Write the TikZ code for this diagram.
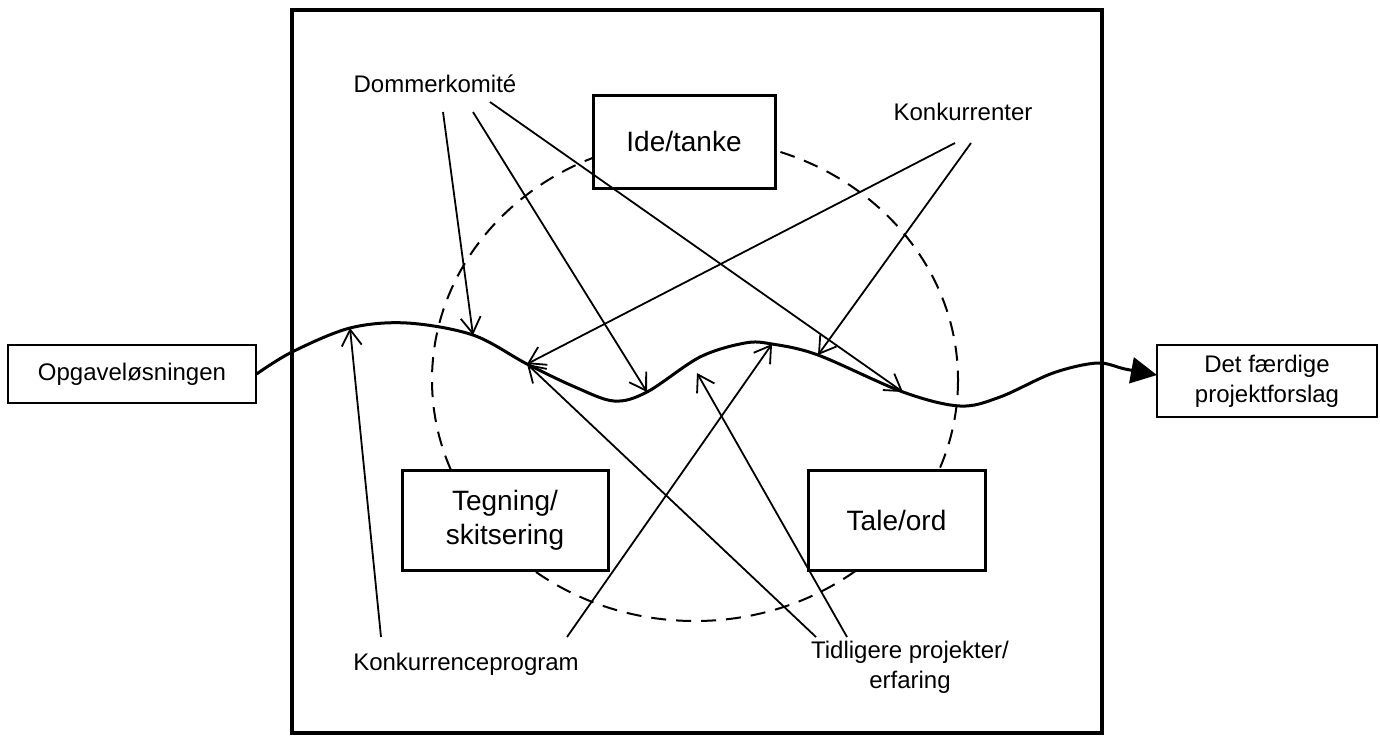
\documentclass[tikz,border=0pt]{standalone}
\usepackage{fontspec}
\setmainfont{Liberation Sans}
\usetikzlibrary{arrows.meta}

\begin{document}
\begin{tikzpicture}[x=0.5pt, y=-0.5pt, >={Straight Barb[length=8pt,width=10pt]},
	every node/.style={font=\fontsize{12}{15}\selectfont},
	stagebox/.style={draw, line width=1.5pt, fill=white, inner sep=0pt, font=\fontsize{14}{17}\selectfont, align=center},
	endbox/.style={draw, line width=0.6pt, inner sep=0pt, align=center},
	flow/.style={line width=1.5pt},
	pointer/.style={->, line width=0.9pt}]
	\useasboundingbox (0,0) rectangle (1380,735);
	% frame and the circle of stages
	\draw[line width=2pt] (292,10) rectangle (1102,733);
	\draw[line width=1pt, dash pattern=on 7.5pt off 5pt] (695,380) ellipse [x radius=263, y radius=241];
	\node[stagebox, minimum width=91pt, minimum height=46.5pt] (ide) at (684,141.5) {Ide/tanke};
	\node[stagebox, minimum width=103pt, minimum height=50pt] (teg) at (505,520) {Tegning/\\skitsering};
	\node[stagebox, minimum width=88.5pt, minimum height=50pt] (tal) at (896.5,520) {Tale/ord};
	% start and end
	\node[endbox, minimum width=124pt, minimum height=29pt] (opg) at (132,374) {Opgaveløsningen};
	\node[endbox, minimum width=110pt, minimum height=36pt] (det) at (1267,381) {Det færdige\\projektforslag};
	% points on the course of the work
	\coordinate (p1) at (350,328);
	\coordinate (p2) at (473,335);
	\coordinate (p3) at (527,364);
	\coordinate (p4) at (647,392);
	\coordinate (p5) at (772,344);
	\coordinate (p6) at (818,355);
	\coordinate (p7) at (903,392);
	\coordinate (fin) at (1157,375);
	\draw[flow, -{Triangle[length=13pt,width=13pt]}] plot[smooth, tension=0.55] coordinates {(opg.east) (292,352) (p1) (407,323) (p2) (p3) (575,387) (614,401) (p4) (700,357) (745,343) (p5) (p6) (p7) (960,406) (1000,397) (1053,373) (1097,363) (1125,369) (fin)};
	% influences
	\node (dom) at (435,84) {Dommerkomité};
	\node (kon) at (963,112) {Konkurrenter};
	\node (kp) at (466,664) {Konkurrenceprogram};
	\node[align=center] (tid) at (910,667) {Tidligere projekter/\\erfaring};
	\coordinate (d1) at (443,112);
	\coordinate (d2) at (473,112);
	\coordinate (d3) at (490,102);
	\coordinate (k1) at (955,143);
	\coordinate (k2) at (971,143);
	\coordinate (q1) at (381,637);
	\coordinate (q2) at (567,637);
	\coordinate (t1) at (816,637);
	\coordinate (t2) at (847,637);
	\coordinate (t2end) at (697,373);
	\draw[pointer] (d1) -- (p2);
	\draw[pointer] (d2) -- (p4);
	\draw[pointer] (d3) -- (p7);
	\draw[pointer] (k1) -- (p3);
	\draw[pointer] (k2) -- (p6);
	\draw[pointer] (q1) -- (p1);
	\draw[pointer] (q2) -- (p5);
	\draw[pointer] (t1) -- (p3);
	\draw[pointer] (t2) -- (t2end);
\end{tikzpicture}
\end{document}
